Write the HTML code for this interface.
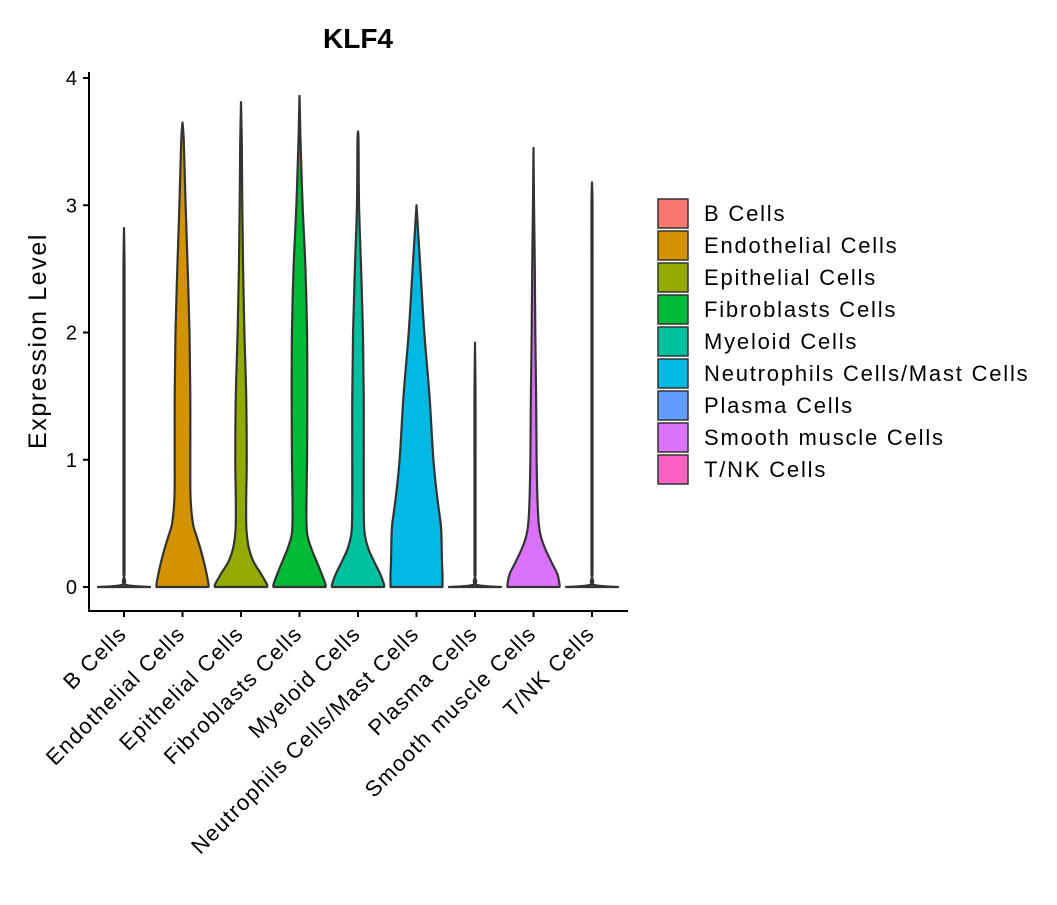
<!DOCTYPE html>
<html><head><meta charset="utf-8"><style>
body{margin:0;background:#fff;}
svg text{font-family:"Liberation Sans","DejaVu Sans",sans-serif;}
</style></head><body>
<svg id="c" width="1057" height="900" xmlns="http://www.w3.org/2000/svg"></svg>
<script>
const categories=["B Cells","Endothelial Cells","Epithelial Cells","Fibroblasts Cells","Myeloid Cells","Neutrophils Cells/Mast Cells","Plasma Cells","Smooth muscle Cells","T/NK Cells"];
const colors=["#F8766D","#D39200","#93AA00","#00BA38","#00C19F","#00B9E3","#619CFF","#DB72FB","#FF61C3"];
const maxValues=[2.82,3.65,3.81,3.86,3.58,3.0,1.92,3.45,3.18];
const levels=[0,0.02,0.1,0.2,0.3,0.4,0.5,0.7,1,1.5,2,2.5,3,3.5];
const dB=[1,0.03,0.02,0.02,0.02,0.02,0.02,0.02,0.02,0.02,0.02,0.02,0.02,0.02];
const dEndo=[1,1,0.93,0.82,0.69,0.54,0.4,0.31,0.3,0.3,0.27,0.2,0.12,0.05];
const dEpi=[1,1,0.78,0.48,0.31,0.23,0.2,0.2,0.22,0.2,0.13,0.08,0.05,0.03];
const dFib=[1,1,0.86,0.66,0.46,0.31,0.27,0.27,0.29,0.3,0.29,0.23,0.12,0.04];
const dMye=[1,1,0.86,0.62,0.4,0.27,0.23,0.22,0.22,0.22,0.19,0.12,0.04,0.02];
const dNeu=[1,1,1,0.98,0.97,0.96,0.93,0.8,0.65,0.5,0.3,0.15,0.03,0];
const dSmo=[1,1,0.92,0.68,0.45,0.28,0.2,0.15,0.12,0.1,0.07,0.05,0.02,0.02];
const densities=[dB,dEndo,dEpi,dFib,dMye,dNeu,dB,dSmo,dB];
const yTicks=[0,1,2,3,4];

const svg=document.getElementById('c');
const NS="http://www.w3.org/2000/svg";
const x0=89,x1=628,yAx=611;
const xScale=i=>124+i*58.5;
const yScale=v=>587-v*127.25;
const halfW=26;
function el(t,a,p){const e=document.createElementNS(NS,t);for(const k in a)e.setAttribute(k,a[k]);(p||svg).appendChild(e);return e;}

const title=el('text',{x:358,y:48,'text-anchor':'middle','font-size':28,'font-weight':'bold',fill:'#000'});
title.textContent="KLF4";



categories.forEach((c,i)=>{
  const cx=xScale(i),d=densities[i],mx=maxValues[i];
  const pts=[];
  for(let k=0;k<levels.length;k++){ if(levels[k]<mx) pts.push([levels[k],d[k]]); }
  pts.push([mx,0]);
  let right=pts.map(p=>[cx+p[1]*halfW,yScale(p[0])]);
  let left=pts.slice().reverse().map(p=>[cx-p[1]*halfW,yScale(p[0])]);
  let path='M'+right[0][0]+','+right[0][1];
  function cr(arr){let s='';for(let k=0;k<arr.length-1;k++){const p0=arr[Math.max(k-1,0)],p1=arr[k],p2=arr[k+1],p3=arr[Math.min(k+2,arr.length-1)];
    s+=` C${p1[0]+(p2[0]-p0[0])/6},${p1[1]+(p2[1]-p0[1])/6} ${p2[0]-(p3[0]-p1[0])/6},${p2[1]-(p3[1]-p1[1])/6} ${p2[0]},${p2[1]}`;}return s;}
  path+=cr(right)+cr(left)+' Z';
  const v=el('path',{d:path,fill:colors[i],stroke:'#333','stroke-width':2.2,'stroke-linejoin':'round'});
  
  
});

const ya=el('line',{x1:x0,y1:72,x2:x0,y2:yAx,stroke:'#000','stroke-width':2});

const xa=el('line',{x1:x0-1,y1:yAx,x2:x1,y2:yAx,stroke:'#000','stroke-width':2});

yTicks.forEach(t=>{
  const y=yScale(t);
  el('line',{x1:x0-6,y1:y,x2:x0,y2:y,stroke:'#000','stroke-width':2});
  const tx=el('text',{x:x0-12,y:y+7,'text-anchor':'end','font-size':20,fill:'#000'});
  tx.textContent=t;
  
  
});
categories.forEach((c,i)=>{
  const x=xScale(i);
  el('line',{x1:x,y1:yAx,x2:x,y2:yAx+6,stroke:'#000','stroke-width':2});
  const tx=el('text',{x:x+4,y:yAx+24,'text-anchor':'end','font-size':22,'letter-spacing':1.3,fill:'#000',transform:`rotate(-45 ${x+4} ${yAx+24})`});
  tx.textContent=c;
  
  
});
const yt=el('text',{x:46,y:341,'text-anchor':'middle','font-size':25,'letter-spacing':1.6,fill:'#000',transform:'rotate(-90 46 341)'});
yt.textContent="Expression Level";



categories.forEach((c,i)=>{
  const y=199+i*32;
  const r=el('rect',{x:658,y:y,width:30,height:29,fill:colors[i],stroke:'#333','stroke-width':1.5});
  
  
  const t=el('text',{x:704,y:y+22,'font-size':22,'letter-spacing':1.8,fill:'#000'});
  t.textContent=c;
  
  
});
</script>
</body></html>
